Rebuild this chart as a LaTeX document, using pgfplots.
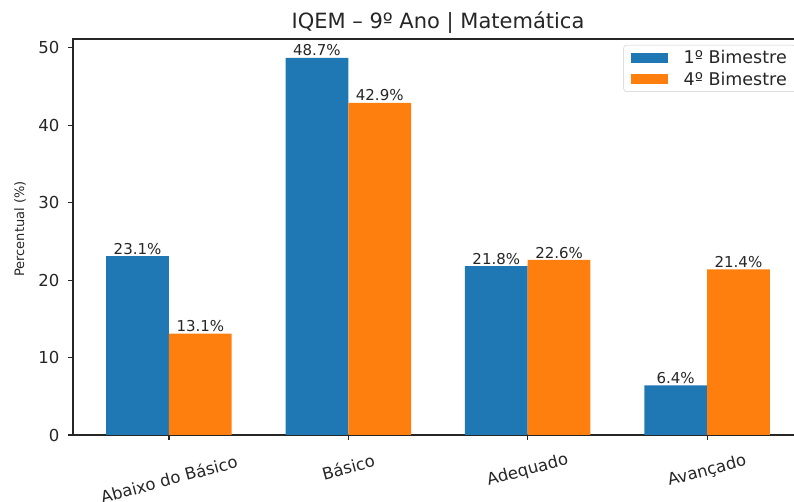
\documentclass[border=0pt]{standalone}
\usepackage{pgfplots}
\pgfplotsset{compat=1.18}
\usepackage{fontspec}
\setmainfont{DejaVu Sans}
\definecolor{tabblue}{HTML}{1F77B4}
\definecolor{taborange}{HTML}{FF7F0E}
\newcommand\ticksize{\fontsize{16.5bp}{19bp}\selectfont}
\newcommand\legsize{\fontsize{17.5bp}{20bp}\selectfont}
\newcommand\titlesize{\fontsize{21bp}{24bp}\selectfont}
\newcommand\labsize{\fontsize{15bp}{17bp}\selectfont}
\newcommand\ylabsize{\fontsize{13bp}{15bp}\selectfont}
\newcommand\setxlshift{%
  \ifnum\ticknum=0 \gdef\xlshift{-39bp}\fi
  \ifnum\ticknum=1 \gdef\xlshift{-27bp}\fi
  \ifnum\ticknum=2 \gdef\xlshift{-30.5bp}\fi
  \ifnum\ticknum=3 \gdef\xlshift{-31bp}\fi}
\gdef\xlshift{-31bp}
\begin{document}
\begin{tikzpicture}[x=1bp,y=1bp]
\useasboundingbox (0,0) rectangle (794,502);
\clip (0,0) rectangle (794,502);
\begin{axis}[
  at={(73bp,67bp)}, anchor=south west,
  scale only axis, width=730bp, height=396bp,
  xmin=-0.535, xmax=3.535, ymin=0, ymax=51.135,
  xtick={0,1,2,3},
  xticklabels={Abaixo do Básico, Básico, Adequado, Avançado},
  ytick={0,10,...,50},
  tick align=outside, tick pos=left,
  major tick length=5bp,
  axis line style={black!85, line width=1.1bp},
  every tick/.style={black!85, line width=1.1bp},
  /pgf/number format/assume math mode=true,
  tick label style={font=\ticksize, text=black!85},
  yticklabel style={anchor=east, xshift=-5bp},
  xticklabel style={anchor=center, /utils/exec={\setxlshift}, yshift=\xlshift, rotate=15},
  title={IQEM – 9º Ano | Matemática},
  title style={font=\titlesize, text=black!85, at={(axis description cs:0.5,1)}, anchor=base, yshift=5bp},
  ylabel={Percentual (\%)},
  ylabel style={font=\ylabsize, text=black!85, at={(axis description cs:-0.0726,0.52)}, anchor=center},
  legend style={at={(axis description cs:0.9904,0.985)}, anchor=north east,
    draw=black!20, rounded corners=3bp, fill=white, font=\legsize, text=black!85,
    inner xsep=7bp, inner ysep=3bp, row sep=3bp,
    /tikz/every odd column/.append style={column sep=14bp}},
  legend cell align=left,
  legend image code/.code={\fill[#1, sharp corners] (0bp,-5bp) rectangle (37bp,5bp);},
  nodes near coords={\pgfmathprintnumber[fixed,fixed zerofill,precision=1]{\pgfplotspointmeta}\%},
  every node near coord/.append style={font=\labsize, text=black!85, anchor=south, inner sep=1.5bp},
]
\addplot[ybar, bar width=0.35, bar shift=-0.175, fill=tabblue, draw=none,
  every node near coord/.append style={xshift=-31.4bp}]
  coordinates {(0,23.1) (1,48.7) (2,21.8) (3,6.4)};
\addlegendentry{1º Bimestre}
\addplot[ybar, bar width=0.35, bar shift=0.175, fill=taborange, draw=none,
  every node near coord/.append style={xshift=31.4bp}]
  coordinates {(0,13.1) (1,42.9) (2,22.6) (3,21.4)};
\addlegendentry{4º Bimestre}
\end{axis}
\end{tikzpicture}
\end{document}
